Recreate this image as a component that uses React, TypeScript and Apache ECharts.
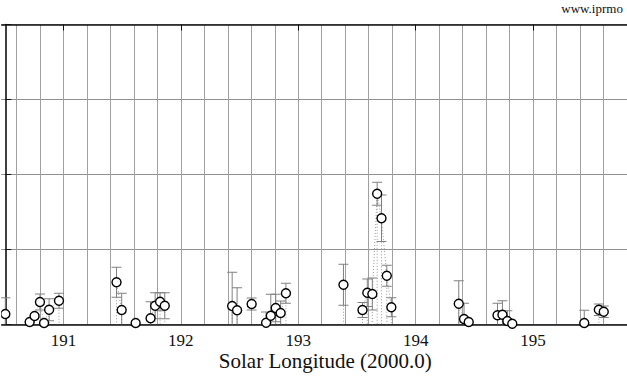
import React, { useEffect, useRef } from "react";
import * as echarts from "echarts";

const LON = [190.505, 190.712, 190.754, 190.8, 190.835, 190.878, 190.962, 191.452, 191.496, 191.615, 191.742, 191.781, 191.823, 191.863, 192.437, 192.479, 192.603, 192.726, 192.766, 192.808, 192.85, 192.895, 193.385, 193.547, 193.588, 193.631, 193.672, 193.709, 193.754, 193.793, 194.367, 194.412, 194.452, 194.697, 194.739, 194.781, 194.823, 195.436, 195.56, 195.602];
const ZHR = [4.2, 1.0, 3.4, 9.0, 0.6, 5.9, 9.5, 16.9, 5.8, 0.6, 2.5, 7.5, 9.1, 7.5, 7.4, 5.7, 8.2, 0.7, 3.5, 6.6, 4.6, 12.5, 15.9, 5.8, 12.7, 12.2, 52.3, 42.5, 19.5, 6.9, 8.3, 2.2, 1.0, 3.7, 3.9, 1.4, 0.3, 0.6, 5.9, 5.1];
const ERR = [6.5, 0, 0, 3.2, 0, 4.4, 3.0, 6.0, 6.7, 0, 6.6, 5.2, 3.6, 5.2, 13.5, 9.0, 2.4, 4.3, 8.6, 5.5, 4.8, 4.0, 8.2, 3.0, 5.5, 6.4, 4.6, 9.3, 4.2, 3.8, 9.2, 6.3, 0, 4.8, 5.6, 4.1, 0, 5.1, 2.3, 2.3];
const MAJOR_TICKS = [191, 192, 193, 194, 195];
const X_TITLE = "Solar Longitude (2000.0)";
const SITE = "www.iprmo";

const SERIF = "'Liberation Serif', 'DejaVu Serif', serif";
const SHIFT = 10.28; // chart div is shifted left by this many px

export default function App() {
  const ref = useRef<HTMLDivElement>(null);
  useEffect(() => {
    if (!ref.current) return;
    const chart = echarts.init(ref.current, null, { renderer: "svg" });
    const data = LON.map((x, i) => [x, ZHR[i], ERR[i]]);
    const xCommon = {
      type: "value" as const,
      min: 190.4,
      max: 195.8,
      interval: 0.2,
    };
    chart.setOption({
      animation: false,
      backgroundColor: "#fff",
      grid: { left: 0, top: 24.5, width: 639.7, height: 300 },
      xAxis: [
        {
          ...xCommon,
          position: "bottom",
          axisLine: { show: true, onZero: false, lineStyle: { color: "#111", width: 1.6 } },
          axisTick: { show: false },
          axisLabel: {
            show: true,
            margin: 7,
            fontSize: 17,
            fontFamily: SERIF,
            color: "#111",
            formatter: (v: number) =>
              Math.abs(v - Math.round(v)) < 1e-6 ? String(Math.round(v)) : "",
          },
          splitLine: { show: true, lineStyle: { color: "#a0a0a0", width: 1 } },
        },
        {
          ...xCommon,
          position: "top",
          axisLine: { show: true, onZero: false, lineStyle: { color: "#111", width: 1.6 } },
          axisTick: {
            show: true,
            inside: true,
            length: 6,
            customValues: MAJOR_TICKS,
            lineStyle: { color: "#111", width: 1 },
          },
          axisLabel: { show: false },
          splitLine: { show: false },
        },
      ],
      yAxis: {
        type: "value",
        min: 0,
        max: 120,
        interval: 30,
        offset: -(2 + SHIFT),
        axisLine: { show: true, lineStyle: { color: "#111", width: 1.6 } },
        axisTick: { show: true, inside: true, length: 6, lineStyle: { color: "#111" } },
        axisLabel: { show: false },
        splitLine: { show: true, lineStyle: { color: "#909090", width: 1 } },
      },
      series: [
        {
          type: "custom",
          xAxisIndex: 0,
          clip: true,
          z: 3,
          data,
          renderItem: (params: any, api: any) => {
            const i = params.dataIndex;
            const x = api.value(0);
            const y = api.value(1);
            const e = api.value(2);
            const p = api.coord([x, y]);
            const base = api.coord([x, 0]);
            const children: any[] = [];
            const dotted = { stroke: "#9a9a9a", lineWidth: 1, lineDash: [1, 2], fill: null };
            children.push({
              type: "line",
              shape: { x1: p[0], y1: p[1], x2: base[0], y2: base[1] },
              style: dotted,
            });
            if (i > 0 && x - LON[i - 1] < 0.1) {
              const q = api.coord([LON[i - 1], ZHR[i - 1]]);
              children.push({
                type: "line",
                shape: { x1: q[0], y1: q[1], x2: p[0], y2: p[1] },
                style: dotted,
              });
            }
            if (e > 0) {
              const hi = api.coord([x, y + e]);
              const lo = api.coord([x, Math.max(0, y - e)]);
              const s = { stroke: "#808080", lineWidth: 1, fill: null };
              children.push({ type: "line", shape: { x1: p[0], y1: hi[1], x2: p[0], y2: lo[1] }, style: s });
              children.push({ type: "line", shape: { x1: p[0] - 5, y1: hi[1], x2: p[0] + 5, y2: hi[1] }, style: s });
              if (y - e > 0) {
                children.push({ type: "line", shape: { x1: p[0] - 5, y1: lo[1], x2: p[0] + 5, y2: lo[1] }, style: s });
              }
            }
            return { type: "group", children };
          },
        },
        {
          type: "scatter",
          xAxisIndex: 0,
          z: 5,
          data: data.map((d) => [d[0], d[1]]),
          symbol: "circle",
          symbolSize: 9,
          itemStyle: { color: "#fff", borderColor: "#000", borderWidth: 1.4, opacity: 1 },
          silent: true,
        },
      ],
      graphic: [
        {
          type: "rect",
          z: 100,
          shape: { x: 0, y: 0, width: SHIFT + 0.9, height: 376 },
          style: { fill: "#fff" },
          silent: true,
        },
        {
          type: "text",
          z: 100,
          x: 325 + SHIFT,
          y: 361,
          style: {
            text: X_TITLE,
            fontSize: 21,
            fontFamily: SERIF,
            fill: "#111",
            textAlign: "center",
            textVerticalAlign: "middle",
          },
        },
        {
          type: "text",
          z: 100,
          x: 561 + SHIFT,
          y: 8,
          style: {
            text: SITE,
            fontSize: 13,
            fontFamily: SERIF,
            fill: "#111",
            textAlign: "left",
            textVerticalAlign: "middle",
          },
        },
      ],
    });
    return () => chart.dispose();
  }, []);
  return (
    <div
      style={{
        position: "absolute",
        left: 0,
        top: 0,
        width: 627,
        height: 376,
        overflow: "hidden",
      }}
    >
      <div
        ref={ref}
        style={{ position: "absolute", left: -SHIFT, top: 0, width: 640, height: 376 }}
      />
    </div>
  );
}
